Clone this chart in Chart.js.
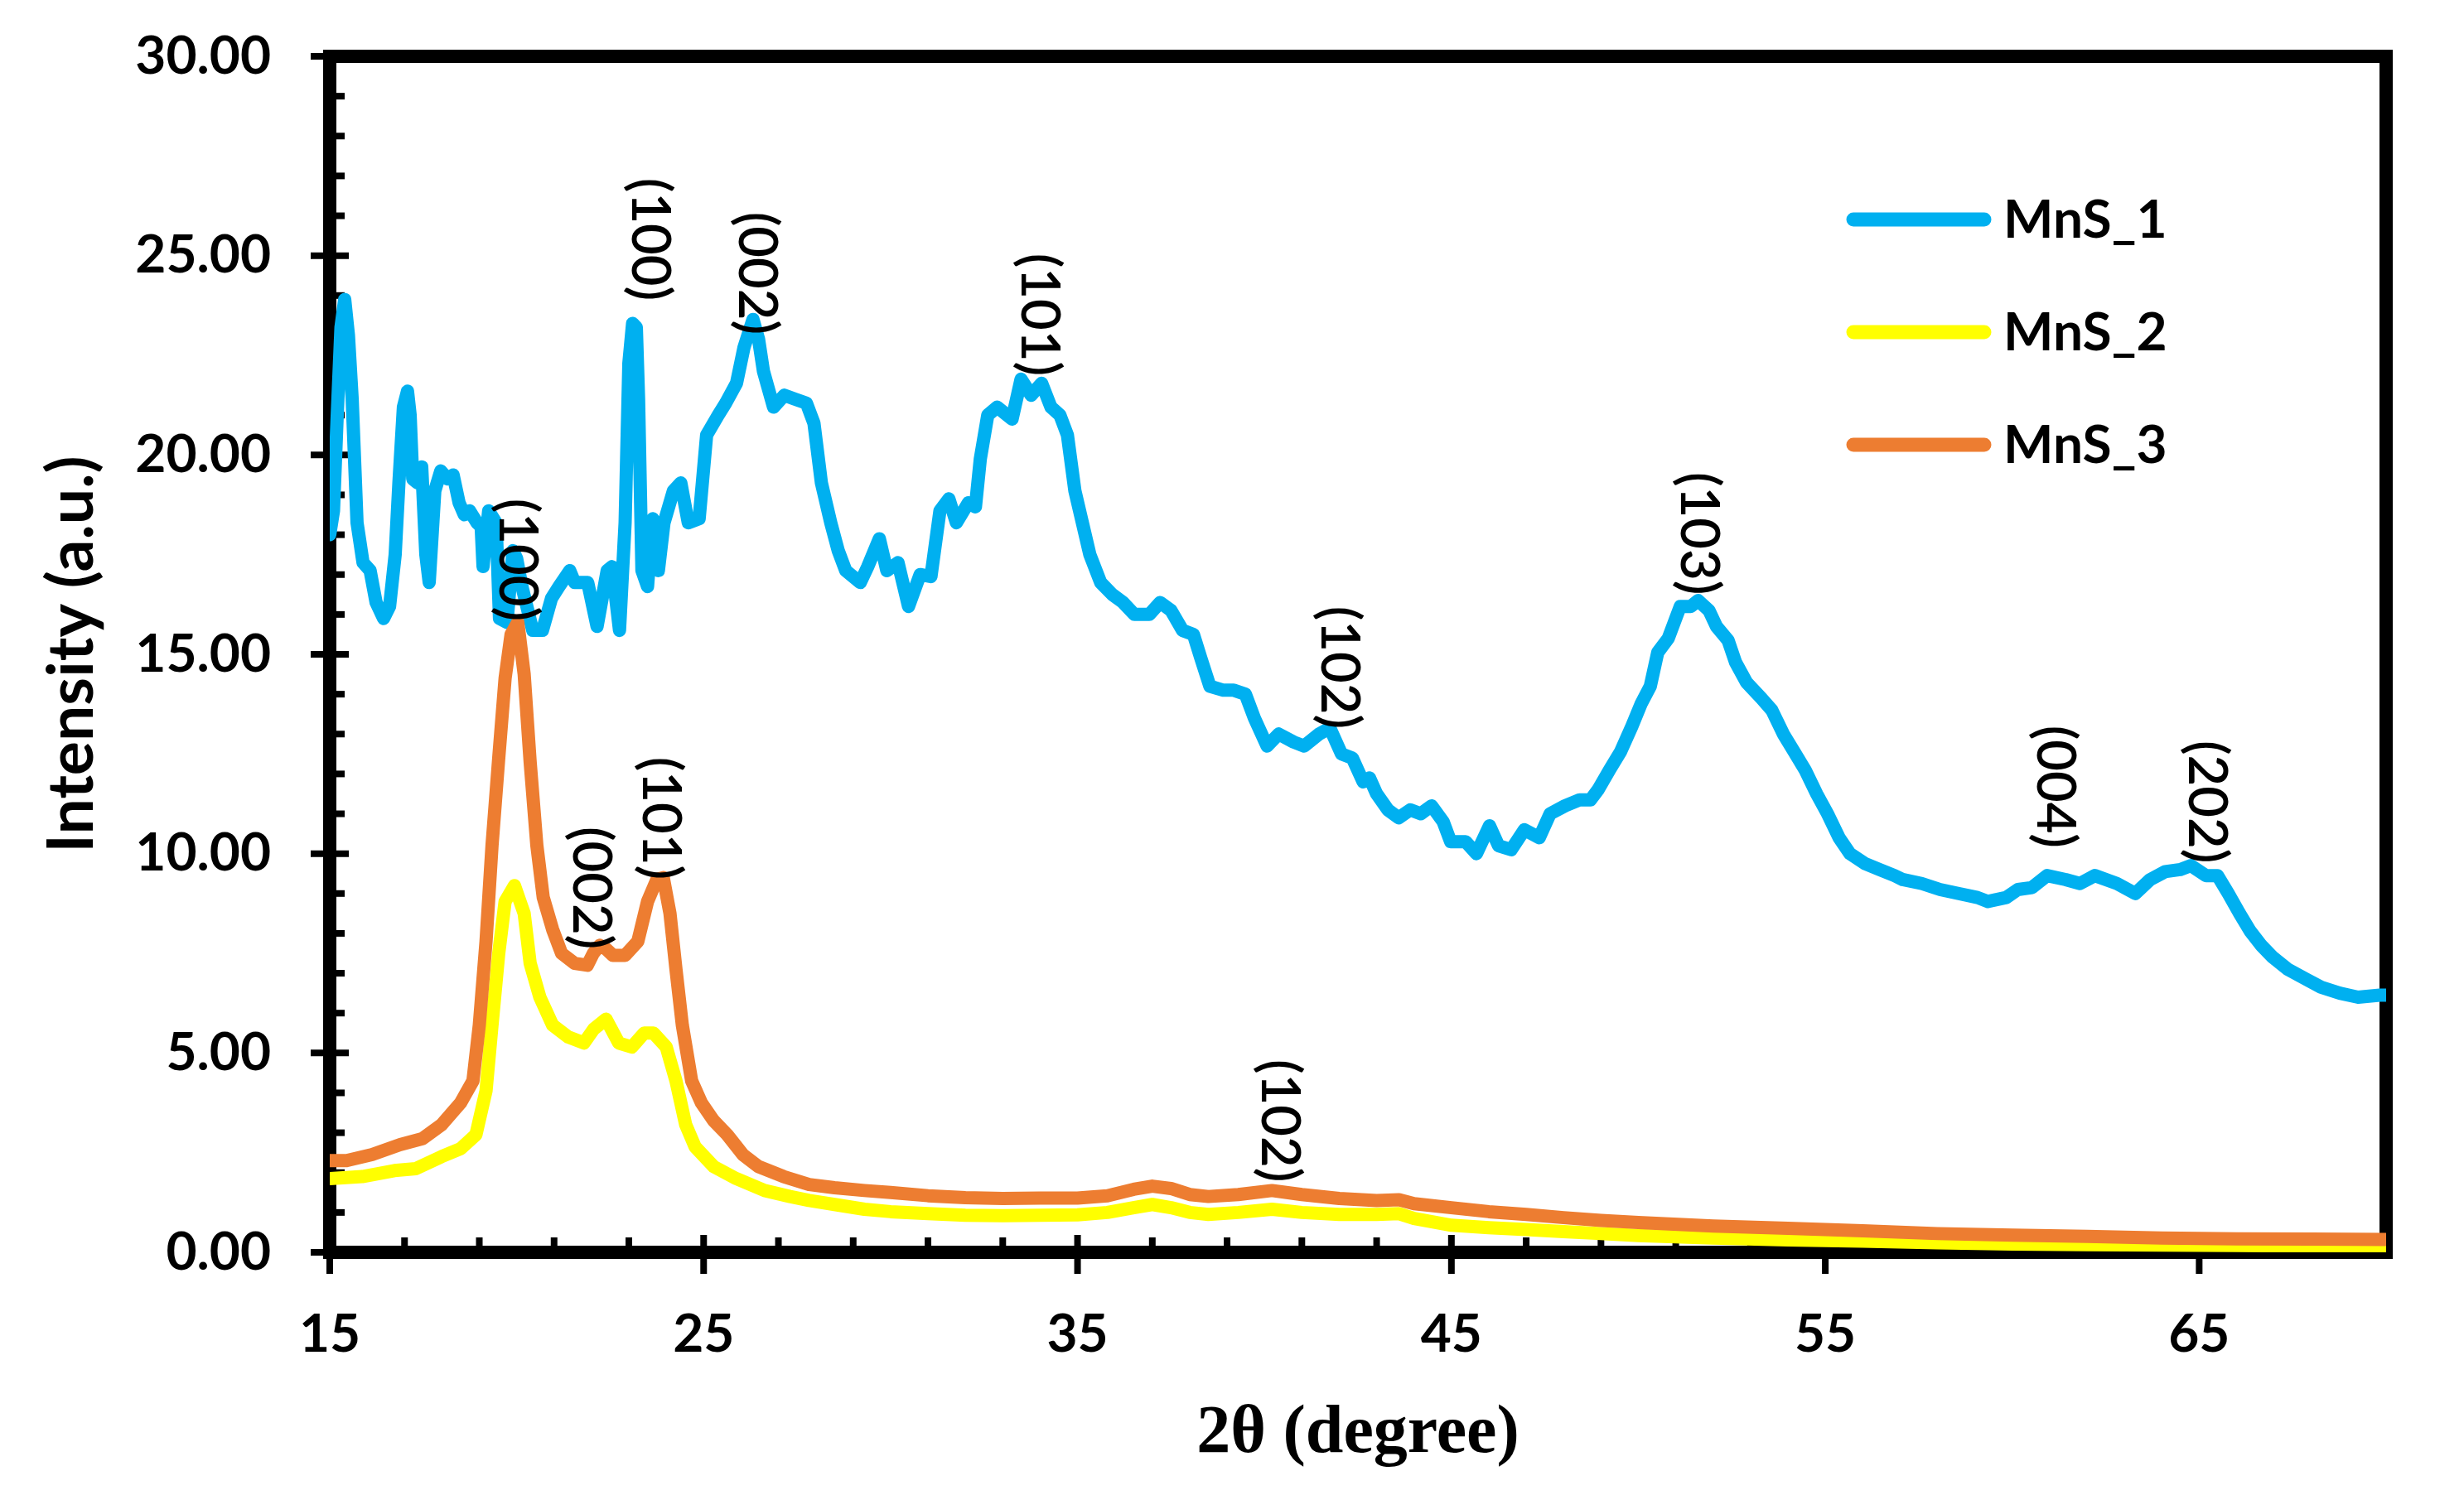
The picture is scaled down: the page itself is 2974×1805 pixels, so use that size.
<!DOCTYPE html>
<html><head><meta charset="utf-8">
<script src="https://cdn.jsdelivr.net/npm/chart.js@4.4.1/dist/chart.umd.min.js"></script>
<style>html,body{margin:0;padding:0;background:#fff;}canvas{display:block;}</style>
</head><body>
<canvas id="c" width="2974" height="1805" style="width:2974px;height:1805px"></canvas>
<script>
// ---------------- DATA ----------------
const seriesNames = ['MnS_1', 'MnS_2', 'MnS_3'];

const mns1Theta = [15.0,15.1,15.2,15.3,15.4,15.5,15.6,15.73,15.89,16.08,16.24,16.44,16.6,16.75,16.85,16.97,17.08,17.15,17.22,17.35,17.46,17.57,17.66,17.81,17.97,18.15,18.3,18.46,18.6,18.74,18.94,19.05,19.1,19.25,19.45,19.54,19.74,19.9,20.0,20.14,20.43,20.69,20.93,21.13,21.42,21.55,21.7,21.9,22.15,22.42,22.55,22.75,22.9,23.0,23.1,23.2,23.26,23.35,23.5,23.64,23.79,23.94,24.19,24.39,24.59,24.88,25.08,25.39,25.59,25.88,26.08,26.32,26.47,26.6,26.87,27.16,27.45,27.75,27.95,28.15,28.4,28.6,28.8,29.19,29.39,29.7,29.9,30.2,30.48,30.79,31.08,31.32,31.56,31.76,32.08,32.27,32.4,32.6,32.85,33.25,33.49,33.76,34.04,34.29,34.53,34.73,34.93,35.13,35.33,35.62,35.93,36.22,36.52,36.92,37.21,37.5,37.81,38.1,38.3,38.54,38.9,39.18,39.49,39.73,40.07,40.38,40.78,41.06,41.46,41.75,42.06,42.35,42.64,42.81,43.0,43.3,43.59,43.9,44.18,44.47,44.78,44.98,45.38,45.67,46.02,46.26,46.6,46.95,47.35,47.64,48.04,48.43,48.72,48.92,49.23,49.52,49.83,50.07,50.32,50.52,50.8,51.12,51.4,51.6,51.89,52.09,52.4,52.6,52.89,53.29,53.57,53.88,54.17,54.46,54.77,55.06,55.37,55.66,56.06,56.45,56.85,57.07,57.58,58.07,58.56,59.07,59.35,59.84,60.15,60.53,60.93,61.43,61.81,62.21,62.8,63.29,63.69,64.09,64.49,64.78,65.18,65.49,65.78,66.08,66.37,66.66,66.97,67.37,67.86,68.26,68.76,69.25,69.83,70.0];
const mns1Int = [18.0,18.6,21.0,23.2,23.9,23.0,21.4,18.3,17.3,17.1,16.3,15.9,16.2,17.5,19.3,21.2,21.6,21.0,19.4,19.3,19.7,17.5,16.8,19.1,19.6,19.4,19.5,18.8,18.5,18.6,18.3,18.2,17.2,18.6,18.3,15.9,15.8,17.6,17.4,16.7,15.6,15.6,16.4,16.7,17.1,16.8,16.8,16.8,15.7,17.1,17.2,15.6,18.3,22.3,23.3,23.2,21.4,17.1,16.7,18.4,17.1,18.3,19.1,19.3,18.3,18.4,20.5,21.0,21.3,21.8,22.7,23.4,22.9,22.1,21.2,21.5,21.4,21.3,20.8,19.3,18.3,17.6,17.1,16.8,17.2,17.9,17.1,17.3,16.2,17.0,16.95,18.6,18.9,18.3,18.8,18.7,19.9,21.0,21.2,20.9,21.9,21.5,21.8,21.2,21.0,20.5,19.1,18.3,17.5,16.8,16.5,16.3,16.0,16.0,16.3,16.1,15.6,15.5,14.9,14.2,14.1,14.1,14.0,13.4,12.7,13.0,12.8,12.7,13.0,13.15,12.5,12.4,11.8,11.9,11.5,11.1,10.9,11.1,11.0,11.2,10.8,10.3,10.3,10.0,10.7,10.2,10.1,10.6,10.4,11.0,11.2,11.35,11.35,11.6,12.1,12.55,13.2,13.75,14.2,15.05,15.4,16.2,16.2,16.35,16.1,15.7,15.35,14.8,14.3,13.9,13.6,13.0,12.55,12.1,11.5,11.0,10.4,10.0,9.75,9.6,9.45,9.35,9.25,9.1,9.0,8.9,8.8,8.9,9.1,9.15,9.45,9.35,9.25,9.45,9.25,9.0,9.35,9.55,9.6,9.7,9.45,9.45,9.0,8.5,8.05,7.7,7.4,7.1,6.85,6.65,6.5,6.4,6.45,6.45];

const mns2Theta = [15.0,15.87,16.73,17.3,17.99,18.5,18.91,19.18,19.34,19.52,19.69,19.94,20.2,20.36,20.62,20.96,21.38,21.8,22.06,22.39,22.73,23.08,23.41,23.66,24.0,24.26,24.52,24.77,25.27,25.87,26.63,27.31,27.82,28.5,29.3,30.0,31.0,32.0,33.0,34.0,35.0,35.8,36.5,37.0,37.5,38.0,38.5,39.3,40.2,41.0,42.0,43.0,43.6,44.0,45.0,46.0,47.0,48.0,49.0,50.0,52.0,54.0,56.0,58.0,60.0,62.0,64.0,66.0,68.0,70.0];
const mns2Int = [1.85,1.9,2.05,2.1,2.4,2.6,2.95,4.05,5.7,7.5,8.8,9.2,8.5,7.25,6.4,5.7,5.4,5.25,5.6,5.85,5.25,5.15,5.5,5.5,5.15,4.3,3.2,2.65,2.15,1.85,1.55,1.4,1.3,1.2,1.08,1.02,0.97,0.93,0.92,0.93,0.94,1.0,1.12,1.2,1.12,1.0,0.95,1.0,1.08,1.0,0.95,0.95,0.97,0.85,0.68,0.62,0.57,0.52,0.47,0.42,0.36,0.31,0.28,0.24,0.21,0.19,0.18,0.17,0.16,0.15];

const mns3Theta = [15.0,15.45,16.13,16.88,17.48,17.99,18.5,18.83,19.0,19.18,19.34,19.52,19.69,19.85,20.03,20.2,20.36,20.54,20.71,20.96,21.2,21.55,21.89,22.05,22.22,22.4,22.57,22.9,23.24,23.5,23.75,23.92,24.1,24.26,24.43,24.68,24.94,25.27,25.63,26.05,26.47,27.14,27.82,28.5,29.3,30.0,31.0,32.0,33.0,34.0,35.0,35.8,36.5,37.0,37.5,38.0,38.5,39.3,40.2,41.0,42.0,43.0,43.6,44.0,45.0,46.0,47.0,48.0,49.0,50.0,52.0,54.0,56.0,58.0,60.0,62.0,64.0,66.0,68.0,70.0];
const mns3Int = [2.3,2.3,2.45,2.7,2.85,3.2,3.75,4.3,5.7,7.8,10.2,12.4,14.4,15.5,15.8,14.5,12.3,10.2,8.9,8.1,7.5,7.25,7.2,7.5,7.7,7.6,7.45,7.45,7.8,8.8,9.35,9.4,8.5,7.1,5.7,4.3,3.75,3.3,2.95,2.45,2.15,1.9,1.7,1.62,1.55,1.5,1.42,1.37,1.35,1.36,1.36,1.42,1.58,1.66,1.6,1.45,1.4,1.45,1.55,1.45,1.35,1.3,1.32,1.22,1.12,1.02,0.95,0.87,0.8,0.75,0.66,0.6,0.54,0.47,0.43,0.4,0.36,0.34,0.33,0.32];

const xTickValues = [15, 25, 35, 45, 55, 65];
const yTickValues = [0, 5, 10, 15, 20, 25, 30];

// peak (hkl) labels, anchored in data coordinates (2theta, intensity)
const peakText  = ['(100)','(002)','(101)','(102)','(103)','(004)','(202)','(100)','(002)','(101)','(102)'];
const peakTheta = [23.55, 26.41, 33.97, 41.99, 51.61, 61.14, 65.19, 20.01, 21.98, 23.84, 40.40];
const peakInt   = [25.41, 24.56, 23.52, 14.67, 18.03, 11.68, 11.30, 17.37,  9.14, 10.89,  3.30];

// ---------------- CHART ----------------
const colors = ['#00B0F0', '#FFFF00', '#ED7D31'];
const pts = (xs, ys) => xs.map((x, i) => ({x: x, y: ys[i]}));
const lineStyle = {borderWidth: 16, pointRadius: 0, pointHoverRadius: 0, tension: 0, fill: false,
  borderJoinStyle: 'round', borderCapStyle: 'round', clip: 0};

const frameAndTicks = {
  id: 'frameAndTicks',
  beforeDatasetsDraw(chart) {
    const {ctx, chartArea: a, scales: {x, y}} = chart;
    ctx.save();
    ctx.strokeStyle = '#000';
    ctx.lineWidth = 16;
    ctx.strokeRect(a.left, a.top, a.right - a.left, a.bottom - a.top);
    ctx.lineWidth = 8;
    ctx.lineCap = 'butt';
    for (let v = 0; v <= 30; v += 1) {
      const py = y.getPixelForValue(v);
      ctx.beginPath();
      if (v % 5 === 0) { ctx.moveTo(a.left - 23, py); ctx.lineTo(a.left + 23, py); }
      else { ctx.moveTo(a.left, py); ctx.lineTo(a.left + 18, py); }
      ctx.stroke();
    }
    for (let v = 15; v <= 70; v += 2) {
      const px = x.getPixelForValue(v);
      ctx.beginPath();
      if ((v - 15) % 10 === 0) { ctx.moveTo(px, a.bottom - 21); ctx.lineTo(px, a.bottom + 26); }
      else { ctx.moveTo(px, a.bottom); ctx.lineTo(px, a.bottom - 18); }
      ctx.stroke();
    }
    ctx.restore();
  }
};

const peakLabels = {
  id: 'peakLabels',
  afterDatasetsDraw(chart) {
    const {ctx, scales: {x, y}} = chart;
    ctx.save();
    ctx.fillStyle = '#000';
    ctx.font = '600 65px Lato';
    ctx.textAlign = 'center';
    ctx.textBaseline = 'middle';
    peakText.forEach((t, i) => {
      ctx.save();
      ctx.translate(x.getPixelForValue(peakTheta[i]), y.getPixelForValue(peakInt[i]));
      ctx.rotate(Math.PI / 2);
      ctx.fillText(t, 0, 0);
      ctx.restore();
    });
    ctx.restore();
  }
};

const insideLegend = {
  id: 'insideLegend',
  afterDraw(chart) {
    const {ctx} = chart;
    const rows = [265, 401, 537];
    ctx.save();
    ctx.font = 'bold 64px Lato';
    ctx.textAlign = 'left';
    ctx.textBaseline = 'middle';
    chart.data.datasets.forEach((ds, i) => {
      const yy = rows[i];
      ctx.strokeStyle = ds.borderColor;
      ctx.lineWidth = 17;
      ctx.lineCap = 'round';
      ctx.beginPath(); ctx.moveTo(2237, yy); ctx.lineTo(2395, yy); ctx.stroke();
      ctx.fillStyle = '#000';
      ctx.fillText(ds.label, 2418, yy + 1);
    });
    ctx.restore();
  }
};

const noPad = s => { s.paddingTop = 0; s.paddingBottom = 0; s.paddingLeft = 0; s.paddingRight = 0; };

function build() {
  Chart.defaults.font.family = 'Lato';
  new Chart(document.getElementById('c'), {
    type: 'line',
    data: {
      datasets: [
        Object.assign({label: seriesNames[0], data: pts(mns1Theta, mns1Int), borderColor: colors[0], backgroundColor: colors[0], order: 3}, lineStyle),
        Object.assign({label: seriesNames[1], data: pts(mns2Theta, mns2Int), borderColor: colors[1], backgroundColor: colors[1], order: 2}, lineStyle),
        Object.assign({label: seriesNames[2], data: pts(mns3Theta, mns3Int), borderColor: colors[2], backgroundColor: colors[2], order: 1}, lineStyle)
      ]
    },
    options: {
      responsive: false,
      animation: false,
      devicePixelRatio: 1,
      parsing: false,
      normalized: true,
      layout: {padding: {left: 0, top: 68, right: 94, bottom: 0}},
      plugins: {legend: {display: false}, tooltip: {enabled: false}},
      scales: {
        x: {
          type: 'linear', min: 15, max: 70,
          afterBuildTicks: s => { s.ticks = xTickValues.map(v => ({value: v})); },
          afterFit: s => { s.height = 293; noPad(s); },
          grid: {display: false, drawTicks: false},
          border: {display: false},
          ticks: {autoSkip: false, maxRotation: 0, padding: 61, color: '#000',
                  font: {family: 'Lato', weight: 'bold', size: 64},
                  callback: v => String(v)},
          title: {display: true, text: '2θ (degree)', color: '#000',
                  font: {family: 'Liberation Serif', weight: 'bold', size: 82},
                  padding: {top: 0, bottom: 24}}
        },
        y: {
          type: 'linear', min: 0, max: 30,
          afterBuildTicks: s => { s.ticks = yTickValues.map(v => ({value: v})); },
          afterFit: s => { s.width = 398; noPad(s); },
          grid: {display: false, drawTicks: false},
          border: {display: false},
          ticks: {padding: 71, color: '#000',
                  font: {family: 'Lato', weight: 'bold', size: 64},
                  callback: v => Number(v).toFixed(2)},
          title: {display: true, text: 'Intensity (a.u.)', color: '#000',
                  font: {family: 'Lato', weight: 'bold', size: 77},
                  padding: {top: 41, bottom: 0}}
        }
      }
    },
    plugins: [frameAndTicks, peakLabels, insideLegend]
  });
}

const fontsReady = (document.fonts && document.fonts.load)
  ? Promise.all([document.fonts.load('bold 64px Lato'), document.fonts.load('600 65px Lato'),
                 document.fonts.load('bold 82px "Liberation Serif"')]).catch(() => null)
  : Promise.resolve();
fontsReady.then(build, build);
</script>
</body></html>
